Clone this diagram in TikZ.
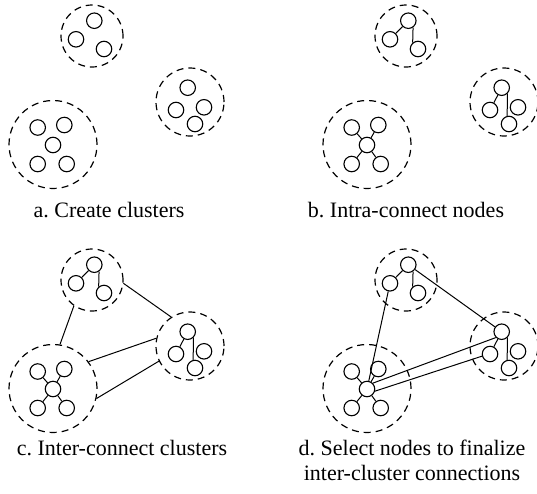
\documentclass[tikz,border=0pt]{standalone}
\usepackage{fontspec}
\setmainfont{Liberation Serif}
\frenchspacing
\begin{document}
\begin{tikzpicture}[
    x=1pt, y=-1pt,
    cluster/.style={circle, draw, dash pattern=on 7pt off 5pt, line width=1.2pt,
        inner sep=0pt},
    member/.style={circle, draw, line width=1.1pt, minimum size=15.5pt, inner sep=0pt},
    link/.style={draw, line width=1pt},
    caption/.style={font=\fontsize{22}{25}\selectfont, anchor=base, align=center,
        inner sep=0pt}
]
\useasboundingbox (0,0) rectangle (537,493);

% the same three clusters in every panel
\foreach \p/\dx/\dy in {a/0/0, b/314/0, c/0/244, d/314/244} {
  \begin{scope}[shift={(\dx,\dy)}]
    \node (\p-A) [cluster, minimum size=62pt] at (92,36) {};
    \node (\p-B) [cluster, minimum size=68pt] at (190,102) {};
    \node (\p-C) [cluster, minimum size=88pt] at (53,144.5) {};
    \node (\p-A1) [member] at (94.3,20.7) {};
    \node (\p-A2) [member] at (76,39.3) {};
    \node (\p-A3) [member] at (104,49) {};
    \node (\p-B1) [member] at (187.7,87.7) {};
    \node (\p-B2) [member] at (176,110) {};
    \node (\p-B3) [member] at (204,107.3) {};
    \node (\p-B4) [member] at (195,124) {};
    \node (\p-C1) [member] at (37.7,127.5) {};
    \node (\p-C2) [member] at (64.3,125) {};
    \node (\p-C3) [member] at (53,145) {};
    \node (\p-C4) [member] at (37.7,164) {};
    \node (\p-C5) [member] at (66.7,164) {};
  \end{scope}
}

% intra-cluster links
\foreach \p in {b,c,d} {
  \draw [link] (\p-A1) -- (\p-A2);
  \draw [link] (\p-A1.-55) -- (\p-A3.130);
  \draw [link] (\p-B1) -- (\p-B2);
  \draw [link] (\p-B1.-46) -- (\p-B4.103);
  \draw [link] (\p-C3) -- (\p-C1);
  \draw [link] (\p-C3) -- (\p-C2);
  \draw [link] (\p-C3) -- (\p-C4);
  \draw [link] (\p-C3) -- (\p-C5);
}

% inter-cluster links
\draw [link] (c-A.-6) -- (c-B.123);
\draw [link] (c-A.-125) -- (c-C.81);
\draw [link] (c-C.37) -- (c-B.167);
\draw [link] (c-C.-13) -- (c-B.206);

% selected nodes
\draw [link] (d-A1) -- (d-B1);
\draw [link] (d-A2) -- (d-C3);
\draw [link] (d-C3.45) -- (d-B1.-135);
\draw [link] (d-C3.-15) -- (d-B2.195);

\node (capA) [caption] at (109,217) {a. Create clusters};
\node (capB) [caption] at (406,217) {b. Intra-connect nodes};
\node (capC) [caption] at (122,455) {c. Inter-connect clusters};
\node (capD) [caption] at (412,480) {d. Select nodes to finalize\\inter-cluster connections};
\end{tikzpicture}
\end{document}
